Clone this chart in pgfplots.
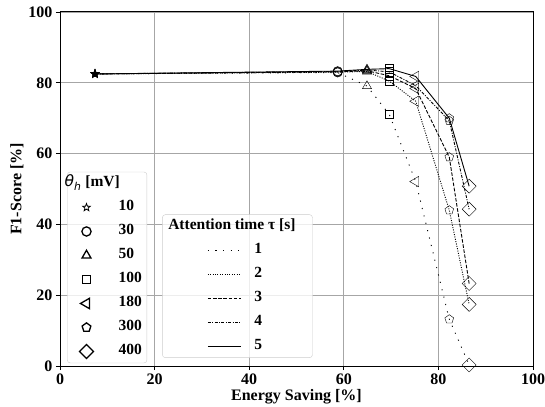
\documentclass[border=0pt]{standalone}
\usepackage{fontspec}
\setmainfont{Liberation Serif}
\newfontfamily\dejavu{DejaVu Sans}
\usepackage{pgfplots}
\usepackage{pgfplotstable}
\pgfplotsset{compat=1.18}
\usetikzlibrary{plotmarks,calc}

\newcommand\lab{\fontsize{16bp}{19bp}\selectfont\bfseries}
\newcommand\leg{\fontsize{15.5bp}{18bp}\selectfont\bfseries}

% 5-point star marks (outline / filled)
\pgfdeclareplotmark{pstar}{%
  \pgfpathmoveto{\pgfpointpolar{90}{\pgfplotmarksize}}%
  \pgfpathlineto{\pgfpointpolar{126}{0.42\pgfplotmarksize}}%
  \pgfpathlineto{\pgfpointpolar{162}{\pgfplotmarksize}}%
  \pgfpathlineto{\pgfpointpolar{198}{0.42\pgfplotmarksize}}%
  \pgfpathlineto{\pgfpointpolar{234}{\pgfplotmarksize}}%
  \pgfpathlineto{\pgfpointpolar{270}{0.42\pgfplotmarksize}}%
  \pgfpathlineto{\pgfpointpolar{306}{\pgfplotmarksize}}%
  \pgfpathlineto{\pgfpointpolar{342}{0.42\pgfplotmarksize}}%
  \pgfpathlineto{\pgfpointpolar{18}{\pgfplotmarksize}}%
  \pgfpathlineto{\pgfpointpolar{54}{0.42\pgfplotmarksize}}%
  \pgfpathclose\pgfusepathqstroke}
\pgfdeclareplotmark{pstarf}{%
  \pgfpathmoveto{\pgfpointpolar{90}{\pgfplotmarksize}}%
  \pgfpathlineto{\pgfpointpolar{126}{0.42\pgfplotmarksize}}%
  \pgfpathlineto{\pgfpointpolar{162}{\pgfplotmarksize}}%
  \pgfpathlineto{\pgfpointpolar{198}{0.42\pgfplotmarksize}}%
  \pgfpathlineto{\pgfpointpolar{234}{\pgfplotmarksize}}%
  \pgfpathlineto{\pgfpointpolar{270}{0.42\pgfplotmarksize}}%
  \pgfpathlineto{\pgfpointpolar{306}{\pgfplotmarksize}}%
  \pgfpathlineto{\pgfpointpolar{342}{0.42\pgfplotmarksize}}%
  \pgfpathlineto{\pgfpointpolar{18}{\pgfplotmarksize}}%
  \pgfpathlineto{\pgfpointpolar{54}{0.42\pgfplotmarksize}}%
  \pgfpathclose\pgfusepathqfillstroke}
% diamond (square standing on a corner) and left-pointing triangle
\pgfdeclareplotmark{dmd}{%
  \pgfpathmoveto{\pgfqpoint{0pt}{\pgfplotmarksize}}%
  \pgfpathlineto{\pgfqpoint{\pgfplotmarksize}{0pt}}%
  \pgfpathlineto{\pgfqpoint{0pt}{-\pgfplotmarksize}}%
  \pgfpathlineto{\pgfqpoint{-\pgfplotmarksize}{0pt}}%
  \pgfpathclose\pgfusepathqstroke}
\pgfdeclareplotmark{tleft}{%
  \pgfpathmoveto{\pgfpointpolar{180}{\pgfplotmarksize}}%
  \pgfpathlineto{\pgfpointpolar{60}{\pgfplotmarksize}}%
  \pgfpathlineto{\pgfpointpolar{300}{\pgfplotmarksize}}%
  \pgfpathclose\pgfusepathqstroke}

% columns: energy saving, F1, threshold class (a=10 b=30 c=50 d=100 e=180 f=300 g=400 mV)
\pgfplotstableread{
x y th
7.4 82.5 a
58.7 82.9 b
64.9 79.1 c
69.6 71.1 d
75.2 52.1 e
82.3 13.2 f
86.5 0.3 g
}\tauone
\pgfplotstableread{
x y th
7.4 82.5 a
58.7 83.0 b
64.9 83.2 c
69.6 80.5 d
75.2 74.8 e
82.3 44.0 f
86.5 17.4 g
}\tautwo
\pgfplotstableread{
x y th
7.4 82.5 a
58.7 83.1 b
64.9 83.4 c
69.6 82.0 d
75.2 78.4 e
82.3 59.0 f
86.5 23.3 g
}\tauthree
\pgfplotstableread{
x y th
7.4 82.5 a
58.7 83.2 b
64.9 83.6 c
69.6 83.1 d
75.2 79.2 e
82.3 69.3 f
86.5 44.3 g
}\taufour
\pgfplotstableread{
x y th
7.4 82.5 a
58.7 83.3 b
64.9 83.8 c
69.6 84.0 d
75.2 81.8 e
82.3 70.0 f
86.5 50.8 g
}\taufive

\tikzset{
  mo/.style={solid, draw=black, line width=1.3bp},
  t1/.style={black, line width=0.9bp, dash pattern=on 1.1bp off 6.5bp},
  t2/.style={black, line width=0.9bp, dash pattern=on 1bp off 1.4bp},
  t3/.style={black, line width=0.9bp, dash pattern=on 3.6bp off 1.6bp},
  t4/.style={black, line width=0.9bp, dash pattern=on 3bp off 1.4bp on 1bp off 1.4bp},
  t5/.style={black, line width=0.9bp},
}
\pgfplotsset{
  thmarks/.style={scatter, only marks, scatter src=explicit symbolic,
    scatter/classes={
      a={mark=pstarf, mark size=4.5bp, mark options={mo, fill=black}},
      b={mark=o, mark size=4.6bp, mark options={mo}},
      c={mark=triangle, mark size=5.2bp, mark options={mo}},
      d={mark=square, mark size=4.3bp, mark options={mo}},
      e={mark=tleft, mark size=6bp, mark options={mo}},
      f={mark=pentagon, mark size=4.6bp, mark options={mo}},
      g={mark=dmd, mark size=7bp, mark options={mo}}}},
  l1/.style={legend image code/.code={\path (0bp,0bp) (46bp,0bp);
      \draw[##1] plot coordinates {(16bp,0bp)};}},
  l2/.style={legend image code/.code={\path (0bp,0bp) (86bp,0bp);
      \draw[##1] (42bp,0bp) -- (75bp,0bp);}},
  legbox/.style={scale only axis, width=473bp, height=354bp, hide axis,
    xmin=0, xmax=1, ymin=0, ymax=1, legend cell align=left,
    legend image post style={sharp corners},
    legend style={draw=black!20, fill=white, fill opacity=0.8, text opacity=1,
      draw opacity=1, rounded corners=3bp, font=\leg, inner xsep=3bp,
      inner ysep=3bp, row sep=7bp,
      nodes={inner sep=2bp, text height=10bp, text depth=3bp}}},
}

\begin{document}
\begin{tikzpicture}
\begin{axis}[name=main,
  scale only axis, width=473bp, height=354bp,
  xmin=0, xmax=100, ymin=0, ymax=100,
  xtick={0,20,...,100}, ytick={0,20,...,100},
  grid=major, grid style={line width=0.8bp, color=black!35},
  axis line style={line width=1bp},
  tick align=outside, tick pos=left, major tick length=4bp,
  tick style={line width=0.8bp, black},
  ticklabel style={font=\lab},
  /pgf/number format/assume math mode=true,
  every axis x label/.style={at={(rel axis cs:0.5,0)}, anchor=center, yshift=-31bp},
  every axis y label/.style={at={(rel axis cs:0,0.5)}, anchor=center, xshift=-43bp, rotate=90},
  label style={font=\lab},
  xlabel={Energy Saving [\%]},
  ylabel={F1-Score [\%]},
]
\addplot[t1] table[x=x, y=y] {\tauone};
\addplot[t2] table[x=x, y=y] {\tautwo};
\addplot[t3] table[x=x, y=y] {\tauthree};
\addplot[t4] table[x=x, y=y] {\taufour};
\addplot[t5] table[x=x, y=y] {\taufive};
\addplot[thmarks] table[x=x, y=y, meta=th] {\tauone};
\addplot[thmarks] table[x=x, y=y, meta=th] {\tautwo};
\addplot[thmarks] table[x=x, y=y, meta=th] {\tauthree};
\addplot[thmarks] table[x=x, y=y, meta=th] {\taufour};
\addplot[thmarks] table[x=x, y=y, meta=th] {\taufive};
\end{axis}

\begin{axis}[at={(main.south west)}, anchor=south west, legbox,
  legend style={at={(0.015,0.008)}, anchor=south west}]
\addlegendimage{empty legend}
\addlegendentry{\hspace*{-54bp}{\dejavu\mdseries\itshape θ\textsubscript{h}} [mV]\hspace*{13bp}}
\addlegendimage{l1, mark=pstar, mark size=4bp, mark options={mo, line width=0.8bp}}
\addlegendentry{10}
\addlegendimage{l1, mark=o, mark size=4.6bp, mark options={mo}}
\addlegendentry{30}
\addlegendimage{l1, mark=triangle, mark size=5.2bp, mark options={mo}}
\addlegendentry{50}
\addlegendimage{l1, mark=square, mark size=4.3bp, mark options={mo}}
\addlegendentry{100}
\addlegendimage{l1, mark=tleft, mark size=6bp, mark options={mo}}
\addlegendentry{180}
\addlegendimage{l1, mark=pentagon, mark size=4.6bp, mark options={mo}}
\addlegendentry{300}
\addlegendimage{l1, mark=dmd, mark size=7bp, mark options={mo}}
\addlegendentry{400}
\end{axis}

\begin{axis}[at={(main.south west)}, anchor=south west, legbox,
  legend style={at={(0.216,0.023)}, anchor=south west}]
\addlegendimage{empty legend}
\addlegendentry{\hspace*{-86bp}Attention time τ [s]\hspace*{12bp}}
\addlegendimage{l2, t1}
\addlegendentry{1}
\addlegendimage{l2, t2}
\addlegendentry{2}
\addlegendimage{l2, t3}
\addlegendentry{3}
\addlegendimage{l2, t4}
\addlegendentry{4}
\addlegendimage{l2, t5}
\addlegendentry{5}
\end{axis}

\pgfresetboundingbox
\path[use as bounding box] ($(main.south west)+(-60bp,-41bp)$) rectangle ($(main.north east)+(12bp,12bp)$);
\end{tikzpicture}
\end{document}
